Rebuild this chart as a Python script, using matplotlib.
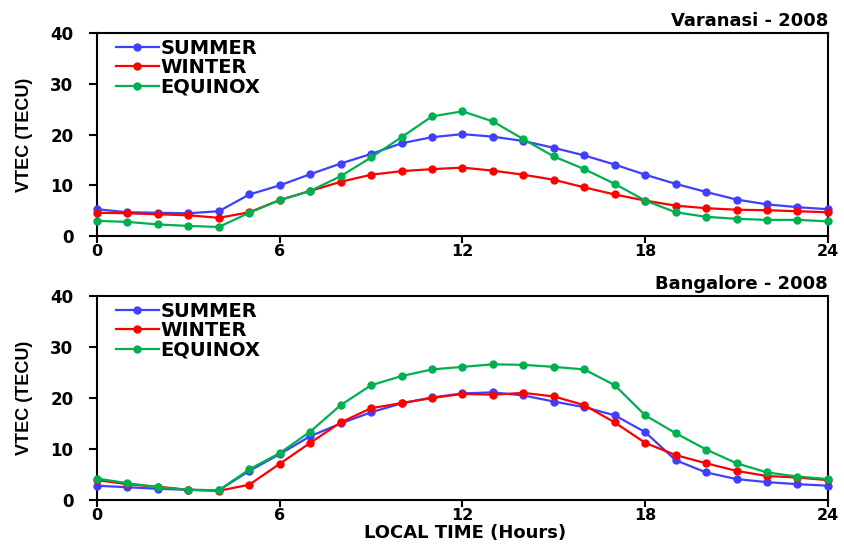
import matplotlib
matplotlib.use('Agg')
import matplotlib.pyplot as plt

# local time (hours)
hours = list(range(25))

# Varanasi - 2008 VTEC (TECU)
var_summer = [5.3, 4.7, 4.6, 4.5, 4.9, 8.2, 10.0, 12.2, 14.3, 16.2, 18.3, 19.5, 20.1,
              19.6, 18.75, 17.4, 15.9, 14.1, 12.1, 10.3, 8.7, 7.2, 6.25, 5.7, 5.3]
var_winter = [4.6, 4.5, 4.3, 4.1, 3.6, 4.7, 7.1, 8.9, 10.7, 12.1, 12.8, 13.2, 13.5,
              12.9, 12.1, 11.1, 9.6, 8.2, 7.0, 6.0, 5.5, 5.2, 5.1, 4.9, 4.7]
var_equinox = [3.0, 2.8, 2.3, 2.0, 1.8, 4.6, 7.1, 8.9, 11.8, 15.5, 19.5, 23.6, 24.6,
               22.6, 19.1, 15.7, 13.2, 10.3, 7.0, 4.7, 3.8, 3.4, 3.2, 3.2, 2.9]

# Bangalore - 2008 VTEC (TECU)
ban_summer = [2.8, 2.5, 2.2, 2.0, 1.9, 5.7, 9.0, 12.5, 15.0, 17.2, 18.95, 20.1, 20.9,
              21.1, 20.5, 19.3, 18.2, 16.6, 13.3, 7.8, 5.4, 4.1, 3.5, 3.1, 2.8]
ban_winter = [3.9, 3.1, 2.6, 2.0, 1.8, 3.0, 7.1, 11.2, 15.2, 18.0, 19.0, 20.0, 20.8,
              20.65, 21.0, 20.3, 18.6, 15.2, 11.2, 8.8, 7.2, 5.7, 4.7, 4.4, 3.9]
ban_equinox = [4.2, 3.3, 2.5, 2.0, 1.9, 6.0, 9.2, 13.4, 18.6, 22.5, 24.3, 25.6, 26.1,
               26.6, 26.5, 26.1, 25.6, 22.5, 16.6, 13.1, 9.9, 7.2, 5.4, 4.6, 4.1]

x_ticks = [0, 6, 12, 18, 24]
y_ticks = [0, 10, 20, 30, 40]

colors = {'SUMMER': '#3f3fff', 'WINTER': '#ff0000', 'EQUINOX': '#00b050'}

# wide bold font for most text (the original is horizontally stretched Arial)
plt.rcParams['font.family'] = ['DejaVu Sans']
plt.rcParams['font.weight'] = 'bold'

fig = plt.figure(figsize=(8.45, 5.44), dpi=100)
ax1 = fig.add_axes([0.1148, 0.566, 0.865, 0.373])
ax2 = fig.add_axes([0.1148, 0.0809, 0.865, 0.375])

panels = [
    (ax1, 'Varanasi - 2008', var_summer, var_winter, var_equinox),
    (ax2, 'Bangalore - 2008', ban_summer, ban_winter, ban_equinox),
]

for ax, title, s, w, e in panels:
    for name, vals in [('SUMMER', s), ('WINTER', w), ('EQUINOX', e)]:
        ax.plot(hours, vals, color=colors[name], lw=1.6, marker='o', ms=5,
                label=name, clip_on=False, zorder=3)
    ax.set_xlim(0, 24)
    ax.set_ylim(0, 40)
    ax.set_xticks(x_ticks)
    ax.set_yticks(y_ticks)
    ax.tick_params(axis='y', direction='out', length=6, width=1.5, labelsize=12, pad=11)
    ax.tick_params(axis='x', direction='out', length=5, width=1.5, labelsize=11.5, pad=1)
    for sp in ax.spines.values():
        sp.set_linewidth(1.5)
    ax.set_ylabel('VTEC (TECU)', fontsize=13, fontweight='bold',
                  fontfamily='Liberation Sans')
    ax.yaxis.set_label_coords(-0.087, 0.5)
    ax.set_title(title, loc='right', fontsize=13, fontweight='bold', pad=5)
    ax.legend(loc='upper left', bbox_to_anchor=(0.01, 1.03), frameon=False,
              prop={'size': 14, 'weight': 'bold'}, handlelength=2.2,
              handletextpad=0.1, labelspacing=0.02, borderaxespad=0.2)

fig.text(465 / 845, 1 - 533 / 544, 'LOCAL TIME (Hours)', fontsize=13,
         fontweight='bold', ha='center', va='center')

fig.savefig('out.png', dpi=100)
